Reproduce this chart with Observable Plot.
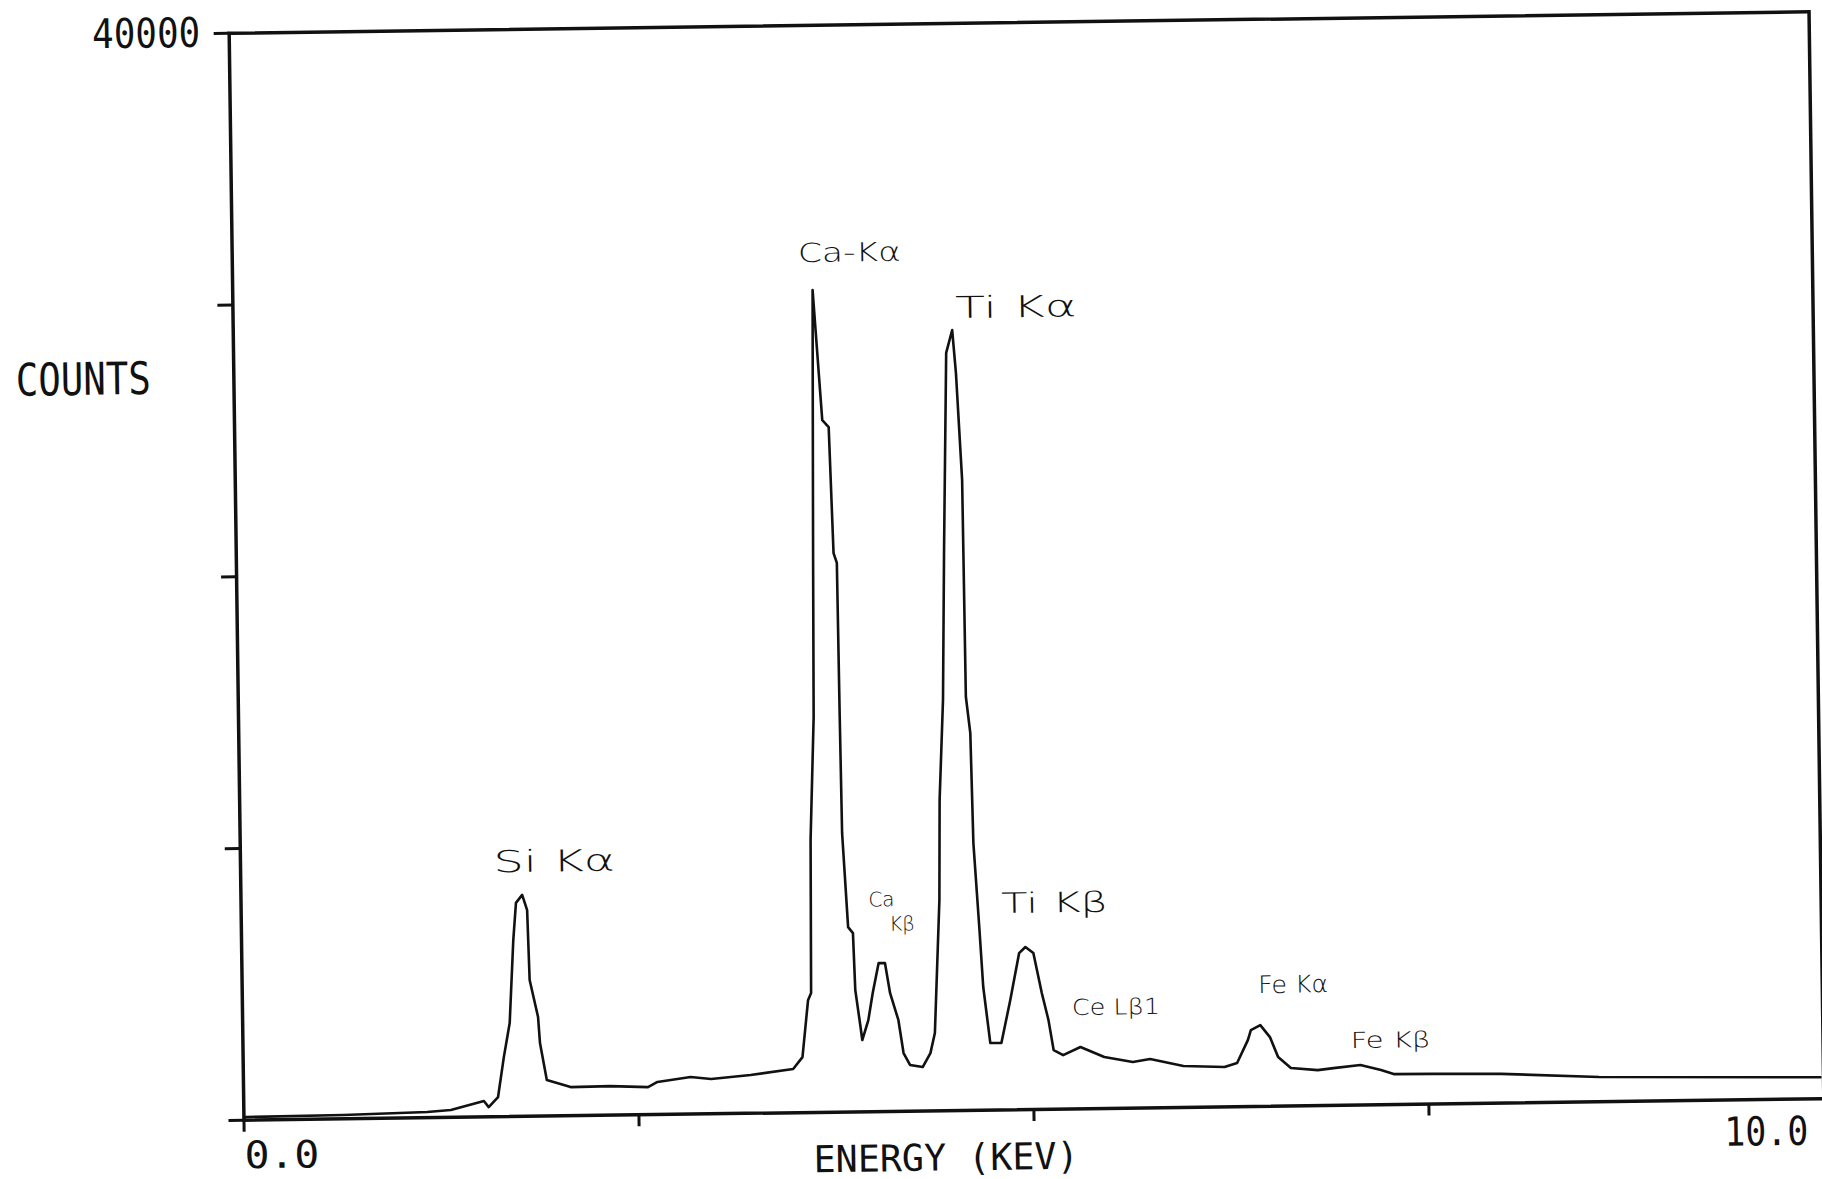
<!DOCTYPE html>
<html><head><meta charset="utf-8">
<script src="https://cdn.jsdelivr.net/npm/d3@7"></script>
<script src="https://cdn.jsdelivr.net/npm/@observablehq/plot@0.6"></script>
<style>
html,body{margin:0;padding:0;background:#fff;overflow:hidden;}
#chart svg{display:block;transform:rotate(-0.78deg);transform-origin:1026px 566px;}
</style></head><body><div id="chart"></div>
<script>
// Spectrum trace: energy (keV) and counts
const energy = [0.01,0.63,1.16,1.31,1.52,1.55,1.61,1.65,1.69,1.72,1.74,1.78,1.81,1.82,1.87,1.88,1.92,2.07,2.32,2.56,2.62,2.83,2.96,3.21,3.48,3.54,3.58,3.60,3.61,3.64,3.65,3.66,3.67,3.72,3.76,3.78,3.80,3.805,3.81,3.84,3.87,3.88,3.91,3.92,3.96,3.99,4.03,4.07,4.10,4.15,4.18,4.22,4.30,4.35,4.38,4.42,4.43,4.46,4.48,4.51,4.55,4.57,4.60,4.605,4.63,4.64,4.67,4.69,4.73,4.80,4.86,4.92,4.96,5.01,5.06,5.10,5.13,5.19,5.30,5.45,5.63,5.74,5.95,6.21,6.29,6.36,6.38,6.44,6.50,6.55,6.63,6.80,6.90,7.07,7.20,7.28,7.53,7.96,8.58,9.98];
const counts = [114,140,210,270,585,360,725,2190,3440,6500,7860,8150,7590,5015,3650,2690,1325,1055,1070,1015,1200,1365,1280,1410,1610,2040,4130,4400,10030,14550,20330,25370,30260,25470,25210,20570,20210,14540,10270,6800,6580,4480,3120,2640,3370,4365,5465,5460,4350,3360,2140,1700,1615,2125,2860,7755,11430,15110,20740,27880,28720,27140,23200,15220,13880,9830,6740,4530,2465,2460,4040,5760,5980,5755,4280,3280,2175,1985,2275,1895,1695,1795,1525,1465,1605,2445,2810,2990,2545,1805,1395,1305,1370,1470,1275,1120,1110,1075,910,790];

const yTicks = [0,10000,20000,30000,40000];
const yTickLabels = ["","","","","40000"];
const xTicks = [0,2.5,5,7.5,10];
const xEndLabels = ["0.0","10.0"];
const xEndValues = [0,10];
const xLabel = "ENERGY (KEV)";
const yLabel = "COUNTS";

// Handwritten peak annotations
const peakNames = ["Si Kα","Ca-Kα","Ti Kα","Ca","Kβ","Ti Kβ","Ce Lβ1","Fe Kα","Fe Kβ"];
const peakLabelE = [1.60,3.58,4.57,3.97,4.10,4.81,5.25,6.43,7.01];
const peakLabelC = [9000,31300,29160,7550,6650,7245,3455,4170,2100];

const spectrum = energy.map((e,i)=>({e, c: counts[i]}));
const notes = peakNames.map((t,i)=>({t, e: peakLabelE[i], c: peakLabelC[i]}));

const mono = "'DejaVu Sans Mono', 'Liberation Mono', monospace";
const hand = "'DejaVu Sans', sans-serif";
const noteSize = [30,26,30,20,20,28,22,24,22];

const chart = Plot.plot({
  width: 1822, height: 1179,
  marginLeft: 236, marginRight: 6, marginTop: 22, marginBottom: 70,
  x: {domain: [0,10]},
  y: {domain: [0,40000]},
  style: {background: "white", color: "#111"},
  marks: [
    Plot.axisY({ticks: yTicks, tickSize: 15, strokeWidth: 3, tickPadding: 14,
      tickFormat: d => yTickLabels[yTicks.indexOf(d)], fontSize: 41, fontFamily: mono, label: null}),
    Plot.axisX({ticks: xTicks, tickSize: 12, strokeWidth: 3, tickFormat: () => "", label: null}),
    Plot.frame({stroke: "#111", strokeWidth: 3.5}),
    Plot.line(spectrum, {x: "e", y: "c", stroke: "#111", strokeWidth: 2.6, curve: "linear"}),
    Plot.text([xEndLabels[0]], {x: () => xEndValues[0], y: () => 0, dy: 36, textAnchor: "start", fontSize: 38, fontFamily: mono, fill: "#111"}),
    Plot.text([xEndLabels[1]], {x: () => xEndValues[1], y: () => 0, dx: -16, dy: 33, textAnchor: "end", fontSize: 40, fontFamily: mono, fill: "#111"}),
    Plot.text([xLabel], {x: () => 4.44, y: () => 0, dy: 48, textAnchor: "middle", fontSize: 37, fontFamily: mono, fill: "#111"}),
    Plot.text([yLabel], {x: () => 0, y: () => 27300, dx: -83, textAnchor: "end", fontSize: 45, fontFamily: mono, fill: "#111"}),
    Plot.text(notes, {x: "e", y: "c", text: "t", textAnchor: "start", lineAnchor: "bottom",
      fontSize: (d, i) => noteSize[i], fontFamily: hand, fontWeight: 200, fill: "#111"})
  ]
});
document.getElementById("chart").appendChild(chart);

// Stretch the plotter-style and handwritten texts to their widths on the scan
const widths = {"40000":108,"COUNTS":135,"ENERGY (KEV)":265,"0.0":75,"10.0":84,
  "Ca-Kα":103,"Ti Kα":122,"Si Kα":122,"Ti Kβ":107,"Ce Lβ1":88,"Fe Kα":70,"Fe Kβ":80};
d3.select(chart).selectAll("text").each(function(){
  const t = this.textContent;
  if (widths[t] && this.querySelectorAll("tspan").length === 0) {
    this.setAttribute("textLength", widths[t]);
    this.setAttribute("lengthAdjust", "spacingAndGlyphs");
  }
});
</script></body></html>
